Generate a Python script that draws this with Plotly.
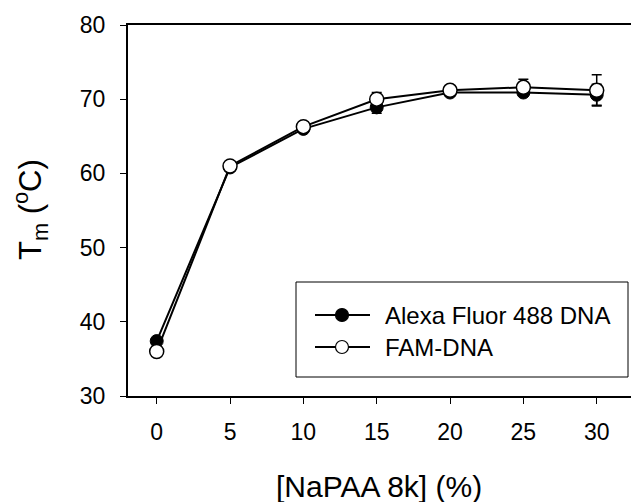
import plotly.graph_objects as go

# ---- data ----
conc = [0, 5, 10, 15, 20, 25, 30]
alexa_name = "Alexa Fluor 488 DNA"
alexa_tm = [37.4, 60.8, 66.0, 68.9, 70.9, 70.9, 70.6]
alexa_err = [0.2, 0.2, 0.2, 0.8, 0.5, 0.3, 1.4]
fam_name = "FAM-DNA"
fam_tm = [36.0, 61.0, 66.3, 70.0, 71.2, 71.6, 71.2]
fam_err = [0.2, 0.2, 0.2, 0.9, 0.3, 1.1, 2.1]
x_ticks = [0, 5, 10, 15, 20, 25, 30]
y_ticks = [30, 40, 50, 60, 70, 80]

FONT = "Liberation Sans, Arial, sans-serif"
OFF = 8  # page body margin
W, H = 639, 502
L, T = 128 - OFF, 25 - OFF
B = H - (396 - OFF)
R = 0
PW, PH = W - L - R, H - T - B
XPX = 14.667  # px per x unit
xmin = (128 - 156.7) / XPX
xmax = xmin + PW / XPX


def px(xp):
    return (xp - OFF - L) / PW


def py(yp):
    return (H - B - (yp - OFF)) / PH


fig = go.Figure()
fig.add_trace(go.Scatter(
    x=conc, y=alexa_tm, name=alexa_name, mode="lines+markers",
    line=dict(color="black", width=2),
    marker=dict(symbol="circle", size=13, color="black", line=dict(color="black", width=1)),
    error_y=dict(type="data", array=alexa_err, visible=True, color="black", thickness=1.5, width=5),
))
fig.add_trace(go.Scatter(
    x=conc, y=fam_tm, name=fam_name, mode="lines+markers",
    line=dict(color="black", width=2),
    marker=dict(symbol="circle", size=14, color="white", line=dict(color="black", width=1.5)),
    error_y=dict(type="data", array=fam_err, visible=True, color="black", thickness=1.5, width=5),
))

shapes = []
annotations = []
# legend box
shapes.append(dict(type="rect", xref="paper", yref="paper",
                   x0=px(296), x1=px(628), y0=py(377), y1=py(282),
                   line=dict(color="black", width=1), fillcolor="white", layer="above"))
for name, ypix, fill in [(alexa_name, 315, "black"), (fam_name, 347, "white")]:
    shapes.append(dict(type="line", xref="paper", yref="paper",
                       x0=px(315), x1=px(370), y0=py(ypix), y1=py(ypix),
                       line=dict(color="black", width=2), layer="above"))
    shapes.append(dict(type="circle", xref="paper", yref="paper",
                       xsizemode="pixel", ysizemode="pixel",
                       xanchor=px(342), yanchor=py(ypix),
                       x0=-6.5, x1=6.5, y0=-6.5, y1=6.5,
                       fillcolor=fill, line=dict(color="black", width=1.2), layer="above"))
    annotations.append(dict(text=name, xref="paper", yref="paper",
                            x=px(383), y=py(ypix), xanchor="left", yanchor="middle",
                            showarrow=False, font=dict(family=FONT, size=24, color="black")))

# axis titles
annotations.append(dict(text="[NaPAA 8k] (%)", xref="paper", yref="paper",
                        x=px(379), y=py(486), xanchor="center", yanchor="middle",
                        showarrow=False, font=dict(family=FONT, size=30, color="black")))
annotations.append(dict(text="T<sub>m</sub> (<sup>o</sup>C)", xref="paper", yref="paper",
                        x=px(30), y=py(210), xanchor="center", yanchor="middle",
                        textangle=-90, showarrow=False,
                        font=dict(family=FONT, size=31, color="black")))

fig.update_layout(
    width=W, height=H,
    margin=dict(l=L, r=R, t=T, b=B, pad=0),
    paper_bgcolor="white", plot_bgcolor="white",
    showlegend=False,
    font=dict(family=FONT, color="black"),
    shapes=shapes, annotations=annotations,
    xaxis=dict(range=[xmin, xmax], tickvals=x_ticks, ticks="outside", ticklen=6,
               tickwidth=1, tickcolor="black", showline=True, linecolor="black", linewidth=2,
               mirror=True, showgrid=False, zeroline=False,
               tickfont=dict(family=FONT, size=23, color="black"), ticklabelstandoff=8),
    yaxis=dict(range=[30, 80], tickvals=y_ticks, ticks="outside", ticklen=6,
               tickwidth=1, tickcolor="black", showline=True, linecolor="black", linewidth=2,
               mirror=False, showgrid=False, zeroline=False,
               tickfont=dict(family=FONT, size=23, color="black"), ticklabelstandoff=10),
)

fig.write_html("out.html")
